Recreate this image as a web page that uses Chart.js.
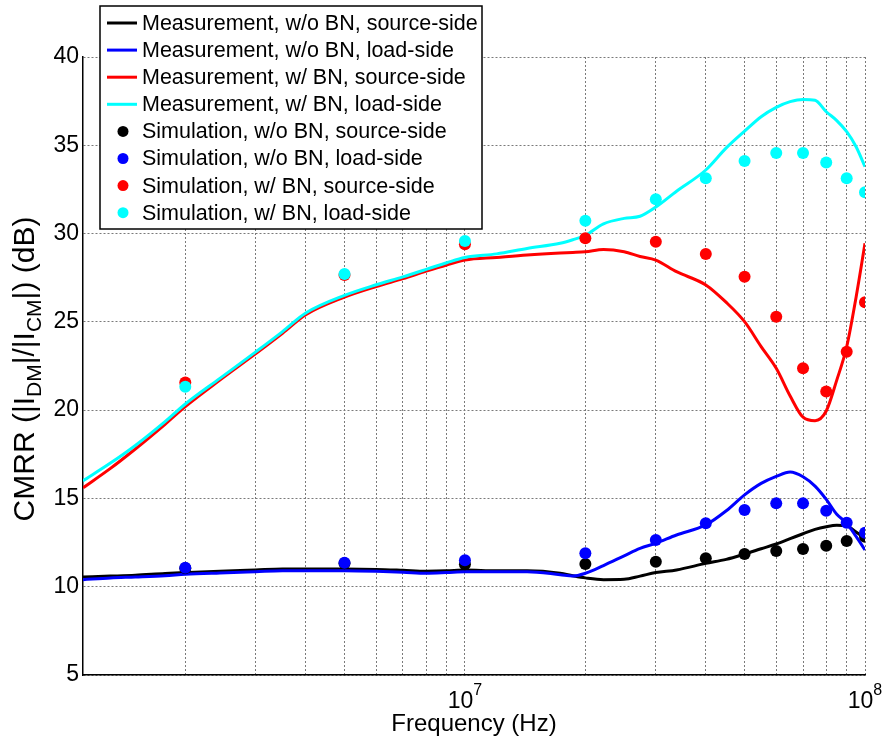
<!DOCTYPE html>
<html>
<head>
<meta charset="utf-8">
<title>CMRR</title>
<script src="https://cdn.jsdelivr.net/npm/chart.js@4.4.1/dist/chart.umd.min.js"></script>
<style>
  html, body { margin: 0; padding: 0; background: #fff; }
  #wrap { width: 887px; height: 745px; }
</style>
</head>
<body>
<div id="wrap"><canvas id="cmrrChart" width="887" height="745"></canvas></div>
<script>
// measured traces, sampled on one frequency grid (Hz)
const measFreq = [1.11e6, 1.3e6, 1.5e6, 1.78e6, 2e6, 2.44e6, 3e6, 3.5e6, 4e6, 5e6, 6e6, 7e6, 8e6, 9e6,
    1e7, 1.2e7, 1.43e7, 1.73e7, 1.86e7, 2e7, 2.22e7, 2.5e7, 2.74e7, 3e7, 3.38e7, 4e7, 4.5e7, 5e7,
    5.5e7, 6e7, 6.5e7, 7e7, 7.5e7, 8e7, 8.5e7, 9e7, 9.5e7, 1e8];
const measWoBnSource = [10.55, 10.6, 10.65, 10.75, 10.8, 10.88, 10.95, 11.0, 11.0, 11.0, 10.98, 10.93, 10.88, 10.9,
    10.95, 10.9, 10.9, 10.76, 10.62, 10.5, 10.4, 10.42, 10.6, 10.8, 10.95, 11.32, 11.55, 11.85,
    12.15, 12.42, 12.72, 13.0, 13.25, 13.4, 13.48, 13.44, 13.1, 12.74];
const measWoBnLoad = [10.4, 10.5, 10.55, 10.62, 10.7, 10.78, 10.85, 10.9, 10.9, 10.9, 10.87, 10.82, 10.76, 10.8,
    10.85, 10.85, 10.85, 10.68, 10.6, 10.76, 11.2, 11.75, 12.17, 12.46, 12.93, 13.5, 14.3, 15.2,
    15.85, 16.25, 16.5, 16.23, 15.7, 14.95, 14.1, 13.6, 12.85, 12.08];
const measWBnSource = [15.6, 16.7, 17.8, 19.2, 20.2, 21.7, 23.2, 24.35, 25.4, 26.4, 27.0, 27.45, 27.87, 28.22,
    28.5, 28.65, 28.79, 28.9, 28.93, 28.97, 29.1, 28.97, 28.7, 28.5, 27.84, 27.09, 26.1, 25.01,
    23.6, 22.37, 20.8, 19.6, 19.4, 19.95, 21.7, 23.59, 26.4, 29.45];
const measWBnLoad = [16.0, 17.0, 18.0, 19.35, 20.35, 21.8, 23.3, 24.45, 25.5, 26.5, 27.1, 27.55, 27.97, 28.35,
    28.65, 28.85, 29.16, 29.45, 29.65, 29.9, 30.55, 30.86, 30.98, 31.5, 32.4, 33.6, 34.85, 35.8,
    36.62, 37.15, 37.47, 37.6, 37.55, 36.9, 36.4, 35.77, 34.92, 33.79];

// simulated points
const simFreq = [2e6, 5e6, 1e7, 2e7, 3e7, 4e7, 5e7, 6e7, 7e7, 8e7, 9e7, 1e8];
const simWoBnSource = [11.05, 11.33, 11.27, 11.29, 11.42, 11.61, 11.85, 12.02, 12.14, 12.32, 12.59, 12.83];
const simWoBnLoad = [11.08, 11.36, 11.5, 11.89, 12.65, 13.59, 14.34, 14.72, 14.72, 14.3, 13.62, 13.06];
const simWBnSource = [21.56, 27.65, 29.4, 29.73, 29.54, 28.84, 27.56, 25.29, 22.37, 21.05, 23.31, 26.11];
const simWBnLoad = [21.33, 27.71, 29.58, 30.73, 31.94, 33.13, 34.11, 34.56, 34.56, 34.02, 33.13, 32.34];

const seriesLabels = [
    'Measurement, w/o BN, source-side',
    'Measurement, w/o BN, load-side',
    'Measurement, w/ BN, source-side',
    'Measurement, w/ BN, load-side',
    'Simulation, w/o BN, source-side',
    'Simulation, w/o BN, load-side',
    'Simulation, w/ BN, source-side',
    'Simulation, w/ BN, load-side'
];
const seriesColors = ['#000000', '#0000ff', '#ff0000', '#00ffff'];

// axis ticks
const xGridValues = [2e6, 3e6, 4e6, 5e6, 6e6, 7e6, 8e6, 9e6, 1e7, 2e7, 3e7, 4e7, 5e7, 6e7, 7e7, 8e7, 9e7, 1e8];
const xDecades = [1e7, 1e8];
const yTicks = [5, 10, 15, 20, 25, 30, 35, 40];

const FONT = "'Liberation Sans', Arial, Helvetica, sans-serif";
Chart.defaults.font.family = FONT;
Chart.defaults.color = '#000';

function toPoints(xs, ys) {
    return xs.map((x, i) => ({ x: x, y: ys[i] }));
}

const measSets = [measWoBnSource, measWoBnLoad, measWBnSource, measWBnLoad];
const simSets = [simWoBnSource, simWoBnLoad, simWBnSource, simWBnLoad];

const datasets = [];
measSets.forEach((vals, i) => {
    datasets.push({
        label: seriesLabels[i],
        data: toPoints(measFreq, vals),
        borderColor: seriesColors[i],
        backgroundColor: seriesColors[i],
        borderWidth: 3,
        pointRadius: 0,
        cubicInterpolationMode: 'monotone',
        fill: false
    });
});
simSets.forEach((vals, i) => {
    datasets.push({
        label: seriesLabels[4 + i],
        data: toPoints(simFreq, vals),
        showLine: false,
        pointRadius: 6,
        pointBorderWidth: 0,
        pointBackgroundColor: seriesColors[i],
        borderColor: seriesColors[i],
        backgroundColor: seriesColors[i]
    });
});
// later series are painted on top
datasets.forEach((ds, i) => { ds.order = datasets.length - i; });

// boxed legend in the upper left corner
const boxLegend = {
    id: 'boxLegend',
    afterDraw(chart) {
        const ctx = chart.ctx;
        const x0 = 100, y0 = 6, w = 382, h = 223;
        ctx.save();
        ctx.fillStyle = '#fff';
        ctx.fillRect(x0, y0, w, h);
        ctx.strokeStyle = '#000';
        ctx.lineWidth = 1.5;
        ctx.strokeRect(x0, y0, w, h);
        ctx.font = '21.5px ' + FONT;
        ctx.textBaseline = 'middle';
        ctx.textAlign = 'left';
        chart.data.datasets.forEach((ds, i) => {
            const cy = y0 + 17 + i * 27.1;
            if (ds.showLine === false) {
                ctx.fillStyle = ds.pointBackgroundColor;
                ctx.beginPath();
                ctx.arc(x0 + 23, cy, 5.5, 0, Math.PI * 2);
                ctx.fill();
            } else {
                ctx.strokeStyle = ds.borderColor;
                ctx.lineWidth = 3;
                ctx.beginPath();
                ctx.moveTo(x0 + 7, cy);
                ctx.lineTo(x0 + 37, cy);
                ctx.stroke();
            }
            ctx.fillStyle = '#000';
            ctx.fillText(ds.label, x0 + 42, cy + 1);
        });
        ctx.restore();
    }
};

// decade labels (10^n) under the x axis
const decadeLabels = {
    id: 'decadeLabels',
    afterDraw(chart) {
        const ctx = chart.ctx;
        const xs = chart.scales.x;
        ctx.save();
        ctx.fillStyle = '#000';
        ctx.textBaseline = 'alphabetic';
        ctx.textAlign = 'left';
        xDecades.forEach(v => {
            const px = xs.getPixelForValue(v);
            const exp = String(Math.round(Math.log10(v)));
            ctx.font = '23px ' + FONT;
            const wBase = ctx.measureText('10').width;
            ctx.font = '16px ' + FONT;
            const wExp = ctx.measureText(exp).width;
            const left = px - (wBase + wExp) / 2;
            ctx.font = '23px ' + FONT;
            ctx.fillText('10', left, 708);
            ctx.font = '16px ' + FONT;
            ctx.fillText(exp, left + wBase, 695);
        });
        ctx.restore();
    }
};

// y axis title with subscripts
const yTitleParts = [['CMRR (|I', false], ['DM', true], ['|/|I', false], ['CM', true], ['|) (dB)', false]];
const yTitle = {
    id: 'yTitle',
    afterDraw(chart) {
        const ctx = chart.ctx;
        const area = chart.chartArea;
        const mainFont = '30px ' + FONT, subFont = '21px ' + FONT;
        ctx.save();
        let total = 0;
        yTitleParts.forEach(([t, sub]) => {
            ctx.font = sub ? subFont : mainFont;
            total += ctx.measureText(t).width;
        });
        ctx.translate(34, (area.top + area.bottom) / 2 + 3);
        ctx.rotate(-Math.PI / 2);
        ctx.fillStyle = '#000';
        ctx.textBaseline = 'alphabetic';
        let x = -total / 2;
        yTitleParts.forEach(([t, sub]) => {
            ctx.font = sub ? subFont : mainFont;
            ctx.fillText(t, x, sub ? 7 : 0);
            x += ctx.measureText(t).width;
        });
        ctx.restore();
    }
};

new Chart(document.getElementById('cmrrChart'), {
    type: 'line',
    data: { datasets: datasets },
    options: {
        responsive: false,
        animation: false,
        events: [],
        layout: { padding: { top: 57, right: 22, bottom: 0, left: 0 } },
        plugins: {
            legend: { display: false },
            tooltip: { enabled: false }
        },
        scales: {
            x: {
                type: 'logarithmic',
                min: 1.11e6,
                max: 1e8,
                afterBuildTicks: scale => { scale.ticks = xGridValues.map(v => ({ value: v })); },
                afterFit: scale => { scale.height = 70; },
                ticks: { callback: () => '' },
                grid: { color: '#7a7a7a', lineWidth: 1, drawTicks: false },
                border: { display: true, color: '#000', width: 1.5, dash: [2, 2] },
                title: {
                    display: true,
                    text: 'Frequency (Hz)',
                    font: { size: 24 },
                    padding: { top: 0, bottom: 6 }
                }
            },
            y: {
                type: 'linear',
                min: 5,
                max: 40,
                afterBuildTicks: scale => { scale.ticks = yTicks.map(v => ({ value: v })); },
                afterFit: scale => { scale.width = 83; },
                ticks: { font: { size: 23 }, padding: 4 },
                grid: { color: '#7a7a7a', lineWidth: 1, drawTicks: false },
                border: { display: true, color: '#000', width: 1.5, dash: [2, 2] }
            }
        }
    },
    plugins: [yTitle, decadeLabels, boxLegend]
});
</script>
</body>
</html>
